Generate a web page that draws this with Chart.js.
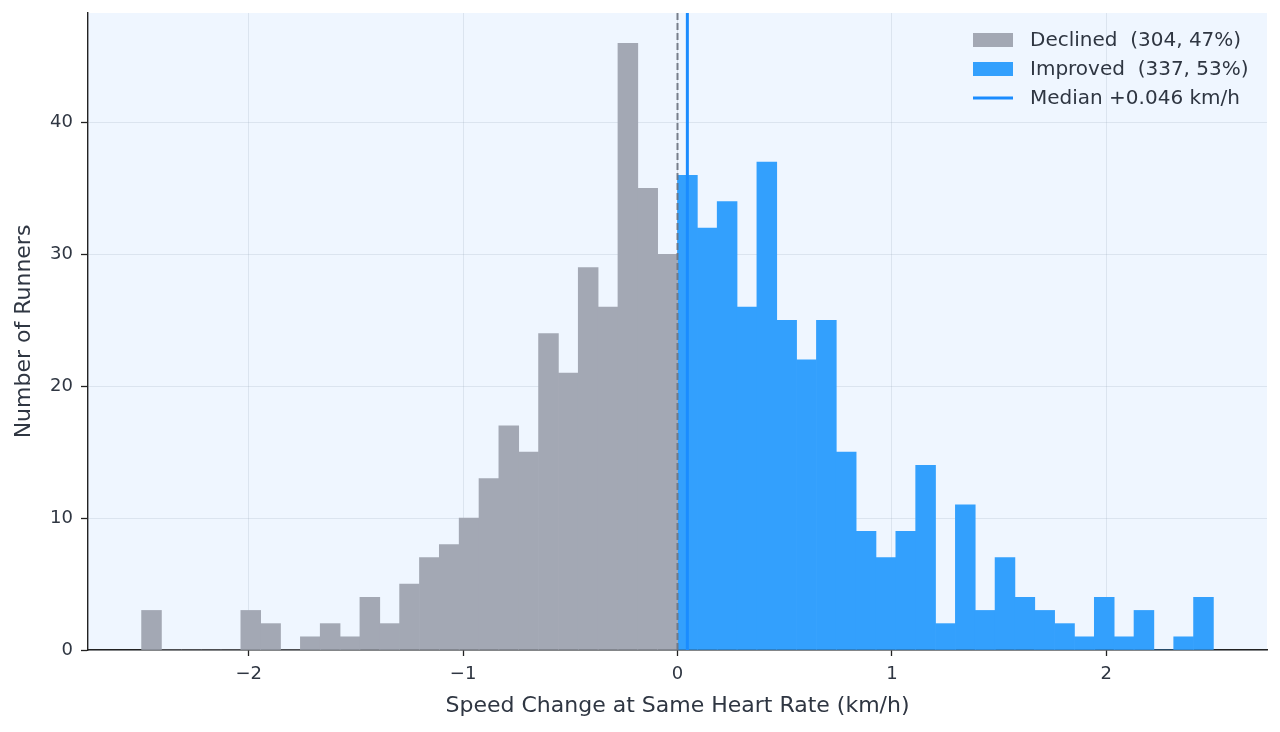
<!DOCTYPE html>
<html>
<head>
<meta charset="utf-8">
<title>Speed Change at Same Heart Rate</title>
<script src="https://cdn.jsdelivr.net/npm/chart.js@4.4.1/dist/chart.umd.min.js"></script>
<style>
  html, body { margin: 0; padding: 0; background: #ffffff; }
  #wrap { width: 1280px; height: 732px; }
</style>
</head>
<body>
<div id="wrap"><canvas id="grafico-histograma" width="1280" height="732"></canvas></div>
<script>
// Histograma: 54 intervalos iguales entre binMin y binMax
const binMin = -2.5;
const binMax = 2.5;
const binCount = 54;

// conteos por intervalo (mitad negativa / mitad positiva)
const declinedCounts = [3, 0, 0, 0, 0, 3, 2, 0, 1, 2, 1, 4, 2, 5, 7, 8, 10, 13, 17, 15, 24, 21, 29, 26, 46, 35, 30];
const improvedCounts = [36, 32, 34, 26, 37, 25, 22, 25, 15, 9, 7, 9, 14, 2, 11, 3, 7, 4, 3, 2, 1, 4, 1, 3, 0, 1, 4];

const legendLabels = ['Declined  (304, 47%)', 'Improved  (337, 53%)', 'Median +0.046 km/h'];
const medianValue = 0.046;
const zeroValue = 0;

const xTickValues = [-2, -1, 0, 1, 2];
const yTickValues = [0, 10, 20, 30, 40];
const xLimits = [-2.75, 2.75];
const yLimits = [0, 48.3];

const FONT = "'DejaVu Sans', 'Noto Sans', sans-serif";
const TEXT_COLOR = '#2f3642';
const GRAY = '#a3a8b4';
const BLUE = '#33a0fd';
const MEDIAN_BLUE = '#1a8cff';

const binWidth = (binMax - binMin) / binCount;

/**
 * Convierte una lista de conteos en puntos {x, y} centrados en cada intervalo
 * @param {Array} counts - conteos
 * @param {number} offset - índice del primer intervalo
 */
function puntosHistograma(counts, offset) {
  return counts.map((c, i) => ({ x: binMin + (offset + i + 0.5) * binWidth, y: c }));
}

// fondo del área de trazado
const fondoPlugin = {
  id: 'fondo',
  beforeDraw(chart) {
    const { ctx, chartArea: a } = chart;
    ctx.save();
    ctx.fillStyle = '#eff6ff';
    ctx.fillRect(a.left, a.top, a.right - a.left, a.bottom - a.top);
    ctx.restore();
  }
};

// leyenda arriba a la derecha, dentro del área
const leyendaPlugin = {
  id: 'leyenda',
  afterDraw(chart) {
    const { ctx, chartArea: a } = chart;
    const x0 = a.right - 294;
    const y0 = a.top + 27;
    const rowH = 29;
    ctx.save();
    ctx.font = '20px ' + FONT;
    ctx.textBaseline = 'middle';
    ctx.textAlign = 'left';
    legendLabels.forEach((label, i) => {
      const y = y0 + i * rowH;
      if (i < 2) {
        ctx.fillStyle = i === 0 ? GRAY : BLUE;
        ctx.fillRect(x0, y - 7, 40, 14);
      } else {
        ctx.strokeStyle = MEDIAN_BLUE;
        ctx.lineWidth = 3;
        ctx.beginPath();
        ctx.moveTo(x0, y);
        ctx.lineTo(x0 + 40, y);
        ctx.stroke();
      }
      ctx.fillStyle = TEXT_COLOR;
      ctx.fillText(label, x0 + 57, y + 1);
    });
    ctx.restore();
  }
};

const canvas = document.getElementById('grafico-histograma');
new Chart(canvas, {
  type: 'bar',
  data: {
    datasets: [
      {
        type: 'line',
        label: legendLabels[2],
        data: [{ x: medianValue, y: yLimits[0] }, { x: medianValue, y: yLimits[1] }],
        borderColor: MEDIAN_BLUE,
        borderWidth: 3,
        pointRadius: 0,
        order: 1
      },
      {
        type: 'line',
        label: 'zero',
        data: [{ x: zeroValue, y: yLimits[0] }, { x: zeroValue, y: yLimits[1] }],
        borderColor: 'rgba(108,114,126,0.9)',
        borderWidth: 2,
        borderDash: [7, 3],
        pointRadius: 0,
        order: 1
      },
      {
        label: legendLabels[0],
        data: puntosHistograma(declinedCounts, 0),
        backgroundColor: GRAY,
        borderWidth: 0,
        grouped: false,
        barPercentage: 1,
        categoryPercentage: 1,
        order: 2
      },
      {
        label: legendLabels[1],
        data: puntosHistograma(improvedCounts, declinedCounts.length),
        backgroundColor: BLUE,
        borderWidth: 0,
        grouped: false,
        barPercentage: 1,
        categoryPercentage: 1,
        order: 2
      }
    ]
  },
  options: {
    responsive: false,
    animation: false,
    layout: { padding: { top: 13, right: 13, left: 0, bottom: 0 } },
    plugins: {
      legend: { display: false },
      tooltip: { enabled: false }
    },
    scales: {
      x: {
        type: 'linear',
        min: xLimits[0],
        max: xLimits[1],
        offset: false,
        afterFit(scale) {
          scale.height = 82;
          scale.paddingLeft = 0;
          scale.paddingRight = 0;
        },
        afterBuildTicks(scale) { scale.ticks = xTickValues.map(v => ({ value: v })); },
        grid: {
          offset: false,
          color: 'rgba(148,163,184,0.22)',
          lineWidth: 1,
          tickColor: '#222222',
          tickLength: 6,
          tickWidth: 1.3
        },
        border: { display: true, color: '#222222', width: 1.4 },
        ticks: {
          color: TEXT_COLOR,
          padding: 8,
          font: { family: FONT, size: 18 },
          callback: v => (v < 0 ? '\u2212' + Math.abs(v) : String(v))
        },
        title: {
          display: true,
          text: 'Speed Change at Same Heart Rate (km/h)',
          color: TEXT_COLOR,
          font: { family: FONT, size: 22 },
          padding: { top: 0, bottom: 13 }
        }
      },
      y: {
        min: yLimits[0],
        max: yLimits[1],
        afterFit(scale) {
          scale.width = 88;
          scale.paddingTop = 0;
          scale.paddingBottom = 0;
        },
        afterBuildTicks(scale) { scale.ticks = yTickValues.map(v => ({ value: v })); },
        grid: {
          color: 'rgba(148,163,184,0.22)',
          lineWidth: 1,
          tickColor: '#222222',
          tickLength: 7,
          tickWidth: 1.3
        },
        border: { display: true, color: '#222222', width: 1.4 },
        ticks: {
          color: TEXT_COLOR,
          padding: 8,
          font: { family: FONT, size: 18 }
        },
        title: {
          display: true,
          text: 'Number of Runners',
          color: TEXT_COLOR,
          font: { family: FONT, size: 22 },
          padding: { top: 11, bottom: 0 }
        }
      }
    }
  },
  plugins: [fondoPlugin, leyendaPlugin]
});
</script>
</body>
</html>
